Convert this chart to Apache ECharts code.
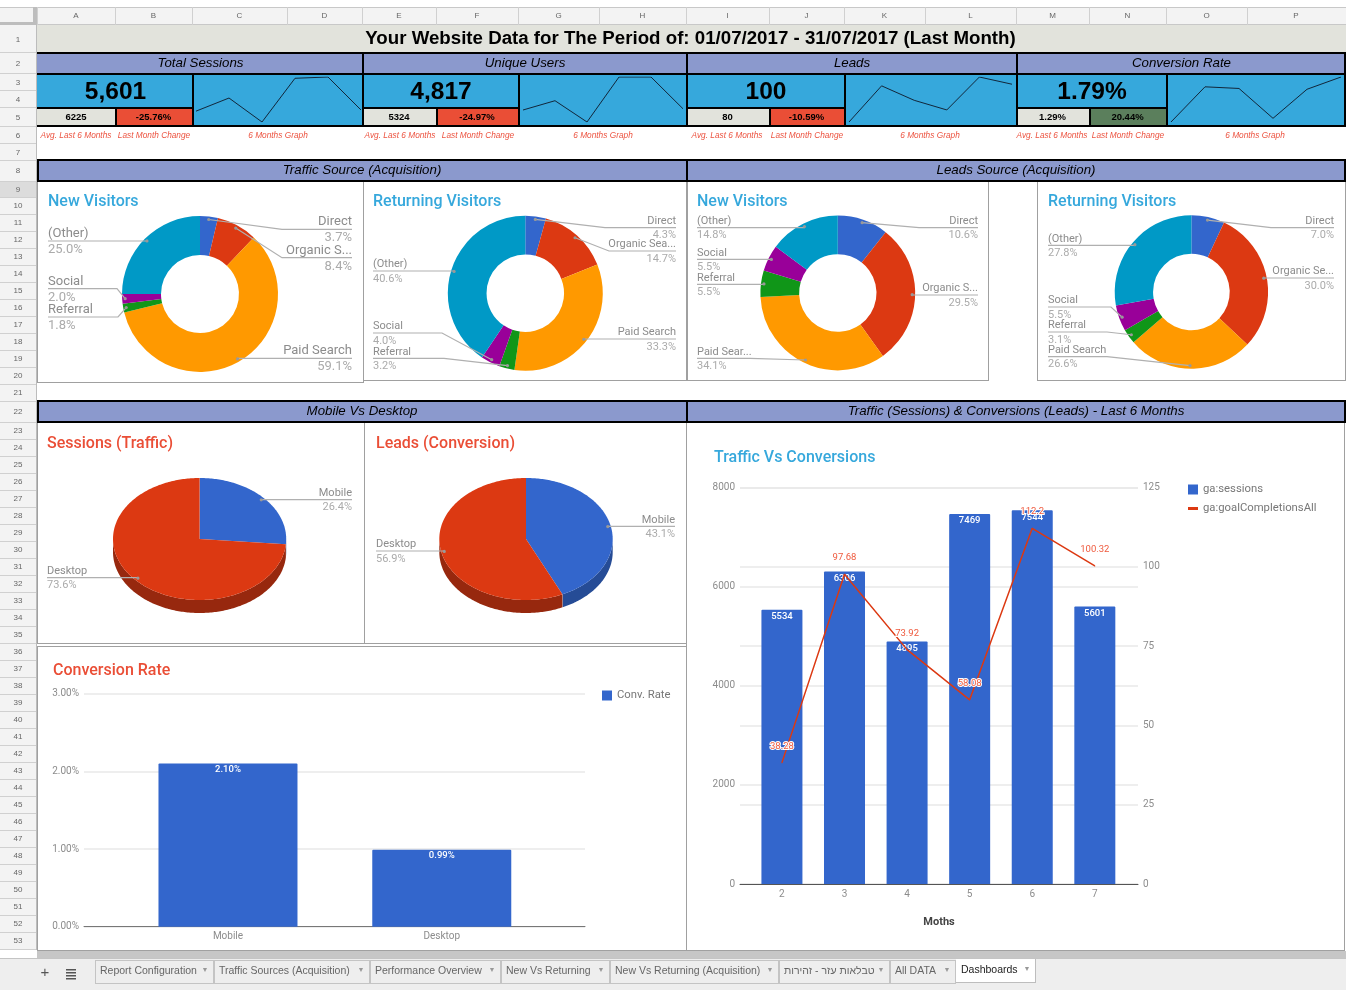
<!DOCTYPE html>
<html>
<head>
<meta charset="utf-8">
<title>Dashboards</title>
<style>
    html, body {margin: 0; padding: 0; background: #fff;}
    #main {width: 1346px; height: 990px;}
</style>
<script src="https://cdn.jsdelivr.net/npm/echarts@6/dist/echarts.min.js"></script>
</head>
<body>
<div id="main"></div>
<script>
// data
var reportTitle = 'Your Website Data for The Period of: 01/07/2017 - 31/07/2017 (Last Month)';
var kpiTitles = ['Total Sessions', 'Unique Users', 'Leads', 'Conversion Rate'];
var kpiValues = ['5,601', '4,817', '100', '1.79%'];
var kpiAverages = ['6225', '5324', '80', '1.29%'];
var kpiChanges = ['-25.76%', '-24.97%', '-10.59%', '20.44%'];
var sparkSessions = [5534, 6306, 4895, 7469, 7544, 5601];
var sparkUsers = [4755, 5224, 4150, 6420, 6420, 4817];
var sparkLeads = [38.28, 97.68, 73.92, 58.08, 112.2, 100.32];
var sparkConversion = [0.69, 1.55, 1.51, 0.78, 1.49, 1.79];

var sourceNames = ['Direct', 'Organic Search', 'Paid Search', 'Referral', 'Social', '(Other)'];
var trafficNewLabels = ['Direct', 'Organic S...', 'Paid Search', 'Referral', 'Social', '(Other)'];
var trafficNewValues = [3.7, 8.4, 59.1, 1.8, 2.0, 25.0];
var trafficReturningLabels = ['Direct', 'Organic Sea...', 'Paid Search', 'Referral', 'Social', '(Other)'];
var trafficReturningValues = [4.3, 14.7, 33.3, 3.2, 4.0, 40.6];
var leadsNewLabels = ['Direct', 'Organic S...', 'Paid Sear...', 'Referral', 'Social', '(Other)'];
var leadsNewValues = [10.6, 29.5, 34.1, 5.5, 5.5, 14.8];
var leadsReturningLabels = ['Direct', 'Organic Se...', 'Paid Search', 'Referral', 'Social', '(Other)'];
var leadsReturningValues = [7.0, 30.0, 26.6, 3.1, 5.5, 27.8];

var deviceNames = ['Mobile', 'Desktop'];
var deviceSessions = [26.4, 73.6];
var deviceLeads = [43.1, 56.9];
var conversionRates = [2.10, 0.99];

var months = [2, 3, 4, 5, 6, 7];
var monthlySessions = [5534, 6306, 4895, 7469, 7544, 5601];
var monthlyGoals = [38.28, 97.68, 73.92, 58.08, 112.2, 100.32];

var columnNames = ['A', 'B', 'C', 'D', 'E', 'F', 'G', 'H', 'I', 'J', 'K', 'L', 'M', 'N', 'O', 'P'];
var sheetTabs = ['Report Configuration', 'Traffic Sources (Acquisition)', 'Performance Overview', 'New Vs Returning',
    'New Vs Returning (Acquisition)', 'טבלאות עזר - זהירות', 'All DATA', 'Dashboards'];

// sheet layout
var columnEdges = [37, 115, 192, 287, 362, 436, 518, 599, 686, 769, 844, 925, 1016, 1089, 1166, 1247, 1345];
var rowEdges = [25, 52, 73, 90, 107, 126, 143, 160, 181, 197, 214, 231, 248, 265, 282, 299, 316, 333, 350, 367, 384, 401, 422];
for (var e = 439; e <= 949; e += 17) {
    rowEdges.push(e);
}
var tabEdges = [95, 214, 370, 501, 610, 779, 890, 956, 1036];

var SANS = '"Liberation Sans", Arial, sans-serif';
var CHART_FONT = 'Roboto, sans-serif';
var BLUE = '#36a8dc';
var PURPLE = '#8b99cd';
var PALE = '#e2e3dc';
var RED = '#ea4e36';
var GREEN = '#5b7f5c';
var CAPTION_RED = '#ec5340';
var LABEL_GREY = '#8c8c8c';
var PCT_GREY = '#ababab';
var PIE_COLORS = ['#3366cc', '#dc3912', '#ff9900', '#109618', '#990099', '#0099c6'];
var HEADER_FONT = 'italic 13.3px ' + SANS;

var graphics = [];

function box(x, y, w, h, fill, z) {
    graphics.push({type: 'rect', z: z || 0, silent: true, shape: {x: x, y: y, width: w, height: h}, style: {fill: fill}});
}

function label(x, y, str, font, fill, align, z) {
    graphics.push({
        type: 'text', z: z || 1, silent: true, x: x, y: y + 1,
        style: {text: str, font: font, fill: fill, align: align || 'center', verticalAlign: 'middle'}
    });
}

function frame(x, y, w, h) {
    box(x, y, w, 1, '#a0a0a0', 1);
    box(x, y + h, w + 1, 1, '#a0a0a0', 1);
    box(x, y, 1, h, '#a0a0a0', 1);
    box(x + w, y, 1, h, '#a0a0a0', 1);
}

function drawSheet() {
    var i;
    // column and row headers
    box(0, 7, 1346, 18, '#f3f3f3');
    box(0, 25, 37, 924, '#f3f3f3');
    box(0, 7, 1346, 1, '#c8c8c8');
    box(0, 24, 1346, 1, '#c8c8c8');
    box(33, 7, 4, 18, '#bdbdbd');
    box(0, 22, 37, 3, '#bdbdbd');
    for (i = 0; i < columnNames.length; i++) {
        box(columnEdges[i], 7, 1, 18, '#d0d0d0');
        label((columnEdges[i] + columnEdges[i + 1]) / 2, 15, columnNames[i], '8px ' + SANS, '#666');
    }
    box(0, rowEdges[8], 36, rowEdges[9] - rowEdges[8], '#dcdcdc');
    for (i = 0; i < rowEdges.length - 1; i++) {
        box(0, rowEdges[i + 1], 36, 1, '#d0d0d0');
        label(18, (rowEdges[i] + rowEdges[i + 1]) / 2 + (i < 7 ? 0.5 : -0.5), String(i + 1), '8px ' + SANS, '#666');
    }
    box(36, 25, 1, 925, '#bcbcbc');

    // title row
    box(37, 25, 1309, 28, PALE);
    label(690.5, 38, reportTitle, 'bold 18.7px ' + SANS, '#000');

    // kpi blocks
    var blockEdges = [37, 362, 686, 1016, 1345];
    var splitEdges = [192, 518, 844, 1166];
    var avgEdges = [115, 436, 769, 1089];
    var captionX = [[76, 154, 278], [400, 478, 603], [727, 807, 930], [1052, 1128, 1255]];
    for (i = 0; i < 4; i++) {
        var left = blockEdges[i];
        var right = blockEdges[i + 1];
        box(left, 53, right - left, 20, PURPLE);
        label((left + right) / 2 + 1, 62, kpiTitles[i], HEADER_FONT, '#000');
        box(left, 73, right - left, 53, BLUE);
        label((left + splitEdges[i]) / 2 + 1, 91, kpiValues[i], 'bold 24.5px ' + SANS, '#000');
        box(left, 107, avgEdges[i] - left, 19, PALE);
        box(avgEdges[i], 107, splitEdges[i] - avgEdges[i], 19, i === 3 ? GREEN : RED);
        label((left + avgEdges[i]) / 2, 116, kpiAverages[i], 'bold 9.5px ' + SANS, '#000');
        label((avgEdges[i] + splitEdges[i]) / 2, 116, kpiChanges[i], 'bold 9.5px ' + SANS, '#000');
        label(captionX[i][0], 135, 'Avg. Last 6 Months', 'italic 8.3px ' + SANS, CAPTION_RED);
        label(captionX[i][1], 135, 'Last Month Change', 'italic 8.3px ' + SANS, CAPTION_RED);
        label(captionX[i][2], 135, '6 Months Graph', 'italic 8.3px ' + SANS, CAPTION_RED);
    }

    // section headers
    box(37, 160, 649, 21, PURPLE);
    box(686, 160, 659, 21, PURPLE);
    box(37, 401, 649, 21, PURPLE);
    box(686, 401, 659, 21, PURPLE);
    label(362, 169, 'Traffic Source (Acquisition)', HEADER_FONT, '#000');
    label(1016, 169, 'Leads Source (Acquisition)', HEADER_FONT, '#000');
    label(362, 410, 'Mobile Vs Desktop', HEADER_FONT, '#000');
    label(1016, 410, 'Traffic (Sessions) & Conversions (Leads) - Last 6 Months', HEADER_FONT, '#000');

    // black cell borders
    [52, 73, 125, 159, 180, 400, 421].forEach(function (y) {
        box(37, y, 1309, 2, '#000', 2);
    });
    for (i = 0; i < 4; i++) {
        box(blockEdges[i], 107, splitEdges[i] - blockEdges[i], 2, '#000', 2);
        box(splitEdges[i], 73, 2, 53, '#000', 2);
        box(avgEdges[i], 107, 2, 19, '#000', 2);
        if (i > 0) {
            box(blockEdges[i], 52, 2, 74, '#000', 2);
        }
    }
    box(1344, 52, 2, 74, '#000', 2);
    [[37, 159], [686, 159], [1344, 159], [37, 400], [686, 400], [1344, 400]].forEach(function (b) {
        box(b[0], b[1], 2, 22, '#000', 2);
    });

    // chart panes
    frame(37, 181, 326, 201);
    frame(363, 181, 324, 199);
    frame(686, 181, 302, 199);
    frame(1037, 181, 308, 199);
    frame(37, 422, 327, 221);
    frame(364, 422, 322, 221);
    frame(37, 646, 649, 304);
    frame(686, 422, 658, 528);

    // pane titles
    var TITLE_FONT = '500 16px ' + CHART_FONT;
    label(48, 201, 'New Visitors', TITLE_FONT, BLUE, 'left');
    label(373, 201, 'Returning Visitors', TITLE_FONT, BLUE, 'left');
    label(697, 201, 'New Visitors', TITLE_FONT, BLUE, 'left');
    label(1048, 201, 'Returning Visitors', TITLE_FONT, BLUE, 'left');
    label(47, 443, 'Sessions (Traffic)', TITLE_FONT, RED, 'left');
    label(376, 443, 'Leads (Conversion)', TITLE_FONT, RED, 'left');
    label(53, 670, 'Conversion Rate', TITLE_FONT, RED, 'left');
    label(714, 457, 'Traffic Vs Conversions', TITLE_FONT, BLUE, 'left');

    // sheet tabs
    box(37, 951, 1309, 7, '#c6c6c6');
    box(0, 958, 1346, 32, '#eeeeee');
    box(0, 958, 1346, 1, '#c4c4c4');
    label(45, 972, '+', '15px ' + SANS, '#555');
    for (i = 0; i < 4; i++) {
        box(66, 969 + i * 3, 10, 1.5, '#555');
    }
    sheetTabs.forEach(function (name, n) {
        var active = n === sheetTabs.length - 1;
        var x = tabEdges[n];
        var w = tabEdges[n + 1] - x;
        var top = active ? 959 : 960;
        box(x, top, w, 24, active ? '#fff' : '#c4c4c4', 3);
        box(x + 1, top + (active ? 0 : 1), w - 2, 23 - (active ? 0 : 1), active ? '#fff' : '#eeeeee', 3);
        if (active) {
            box(x, top + 23, w, 1, '#bdbdbd', 3);
            box(x + w - 1, top, 1, 24, '#bdbdbd', 3);
        }
        label(x + 5, active ? 969 : 970, name, '10.5px ' + SANS, active ? '#222' : '#666', 'left', 4);
        label(x + w - 9, active ? 968.5 : 969.5, '▼', '7px ' + SANS, '#999', 'center', 4);
    });
}

// name above the leader line, percentage under it, dot on the slice
function pieCallout(cx, cy, rx, ry, names, values, anchors, fontSize) {
    var font = fontSize + 'px ' + CHART_FONT;
    var gap = fontSize === 13 ? 7.7 : 7;
    var total = values.reduce(function (a, b) { return a + b; }, 0);
    var run = 0;
    values.forEach(function (v, i) {
        var t = (run + v / 2) / total * Math.PI * 2;
        run += v;
        var a = anchors[i];
        var dotX = cx + (rx - 3) * Math.sin(t);
        var dotY = cy - (ry - 3) * Math.cos(t);
        var pts = [[a[0], a[2]]];
        if (a[3]) {
            pts.push([a[3], a[2]]);
        } else {
            pts.push([dotX, a[2]]);
        }
        pts.push([dotX, dotY]);
        graphics.push({
            type: 'polyline', z: 10, silent: true, shape: {points: pts},
            style: {stroke: '#b0b0b0', lineWidth: 1.2, fill: null}
        });
        graphics.push({type: 'circle', z: 11, silent: true, shape: {cx: dotX, cy: dotY, r: 1.6}, style: {fill: '#999'}});
        var align = a[1];
        label(a[0], a[2] - gap - 0.5, names[i], font, LABEL_GREY, align, 10);
        label(a[0], a[2] + gap, v.toFixed(1) + '%', font, PCT_GREY, align, 10);
    });
}

function donut(name, cx, cy, outer, values) {
    return {
        type: 'pie',
        name: name,
        center: [cx, cy],
        radius: [outer / 2, outer],
        silent: true,
        label: {show: false},
        labelLine: {show: false},
        data: values.map(function (v, i) {
            return {name: sourceNames[i], value: v, itemStyle: {color: PIE_COLORS[i]}};
        })
    };
}

// pie seen at an angle, the library has no such mode so it is a custom series
function tiltedPie(name, cx, cy, rx, ry, depth, values) {
    var tops = ['#3366cc', '#dc3912'];
    var sides = ['#264c96', '#97280e'];
    var total = values[0] + values[1];
    return {
        type: 'custom',
        name: name,
        coordinateSystem: 'none',
        silent: true,
        data: values,
        renderItem: function (params, api) {
            var i = params.dataIndex;
            var before = i === 0 ? 0 : values[0];
            var from = before / total * 360;
            var to = (before + api.value(0)) / total * 360;
            var top = [[cx, cy]];
            var rim = [];
            var under = [];
            for (var a = from; a <= to + 0.001; a += 1) {
                var rad = Math.min(a, to) * Math.PI / 180;
                var px = cx + rx * Math.sin(rad);
                var py = cy - ry * Math.cos(rad);
                top.push([px, py]);
                if (a >= 90 && a <= 270) {
                    rim.push([px, py]);
                    under.unshift([px, py + depth]);
                }
            }
            var rad2 = to * Math.PI / 180;
            top.push([cx + rx * Math.sin(rad2), cy - ry * Math.cos(rad2)]);
            return {
                type: 'group',
                children: [
                    {type: 'polygon', shape: {points: rim.concat(under)}, style: {fill: sides[i]}},
                    {type: 'polygon', shape: {points: top}, style: {fill: tops[i]}}
                ]
            };
        }
    };
}

function spark(index, values, left, right) {
    return {
        grid: {left: left, top: 77, width: right - left, height: 45},
        xAxis: {gridIndex: index, type: 'category', show: false, boundaryGap: false, data: months},
        yAxis: {gridIndex: index, type: 'value', show: false, min: Math.min.apply(null, values), max: Math.max.apply(null, values)},
        series: {
            type: 'line', xAxisIndex: index, yAxisIndex: index, data: values, silent: true,
            showSymbol: false, lineStyle: {color: '#12263a', width: 1}
        }
    };
}

function pairs(xs, ys) {
    return xs.map(function (x, i) {
        return [x, ys[i]];
    });
}

function yValue(p) {
    return String(p.value[1]);
}

drawSheet();

pieCallout(200, 294, 78, 78, trafficNewLabels, trafficNewValues, [
    [352, 'right', 229.3, 282], [352, 'right', 257.7, 282], [352, 'right', 358.3, 0],
    [48, 'left', 317, 118], [48, 'left', 288.7, 117], [48, 'left', 241, 0]
], 13);
pieCallout(525.3, 293.2, 77.5, 77.5, trafficReturningLabels, trafficReturningValues, [
    [676, 'right', 227.7, 605], [676, 'right', 251, 609], [676, 'right', 339, 0],
    [373, 'left', 358.3, 444], [373, 'left', 333, 442], [373, 'left', 271, 0]
], 11);
pieCallout(837.8, 293, 77.4, 77.4, leadsNewLabels, leadsNewValues, [
    [978, 'right', 227.7, 919], [978, 'right', 295, 0], [697, 'left', 358.3, 750],
    [697, 'left', 284.3, 0], [697, 'left', 259.3, 0], [697, 'left', 227.7, 0]
], 11);
pieCallout(1191.4, 292, 76.7, 76.7, leadsReturningLabels, leadsReturningValues, [
    [1334, 'right', 227.7, 1271], [1334, 'right', 278, 0], [1048, 'left', 356.7, 1107],
    [1048, 'left', 332, 1107], [1048, 'left', 307, 1111], [1048, 'left', 245.3, 0]
], 11);
pieCallout(199.6, 539, 86.6, 61, deviceNames, deviceSessions, [
    [352, 'right', 499.7, 0], [47, 'left', 577.7, 0]
], 11);
pieCallout(526, 539, 86.7, 61, deviceNames, deviceLeads, [
    [675, 'right', 526.3, 0], [376, 'left', 551, 0]
], 11);

var sparks = [
    spark(0, sparkSessions, 196, 361),
    spark(1, sparkUsers, 523, 683),
    spark(2, sparkLeads, 849, 1012),
    spark(3, sparkConversion, 1171, 1341)
];

var axisText = {color: LABEL_GREY, fontFamily: CHART_FONT, fontSize: 10, margin: 5};
var gridLine = {lineStyle: {color: '#e9e9e9', width: 1.5}};
var legendText = {color: '#777', fontFamily: CHART_FONT, fontSize: 11.3};
var hiddenLine = {show: false, onZero: false};
var deviceSlots = [0, 1];

var option = {
    animation: false,
    backgroundColor: '#fff',
    textStyle: {fontFamily: CHART_FONT},
    graphic: {elements: graphics},
    grid: sparks.map(function (s) { return s.grid; }).concat([
        {left: 84, width: 501, top: 693.7, height: 233},
        {left: 740, width: 398, top: 487.7, height: 396.3}
    ]),
    // the bars sit inside a wider plot, so these are value axes with labels only on the bars
    xAxis: sparks.map(function (s) { return s.xAxis; }).concat([
        {
            gridIndex: 4, type: 'value', min: -0.6735, max: 1.67,
            axisTick: {show: false},
            splitLine: {show: false},
            axisLine: {lineStyle: {color: '#777', width: 1}},
            axisLabel: {
                color: LABEL_GREY, fontFamily: CHART_FONT, fontSize: 10, margin: 5,
                customValues: deviceSlots,
                formatter: function (v) { return deviceNames[v]; }
            }
        },
        {
            gridIndex: 5, type: 'value', min: 1.33, max: 7.69,
            axisTick: {show: false},
            splitLine: {show: false},
            axisLine: {lineStyle: {color: '#555', width: 1}},
            axisLabel: {
                color: LABEL_GREY, fontFamily: CHART_FONT, fontSize: 10, margin: 5,
                customValues: months
            },
            name: 'Moths',
            nameLocation: 'middle',
            nameGap: 33,
            nameTextStyle: {color: '#444', fontFamily: CHART_FONT, fontSize: 11, fontWeight: 'bold'}
        }
    ]),
    yAxis: sparks.map(function (s) { return s.yAxis; }).concat([
        {
            gridIndex: 4, type: 'value', min: 0, max: 3, interval: 1,
            axisLine: hiddenLine, axisTick: {show: false},
            axisLabel: {
                color: LABEL_GREY, fontFamily: CHART_FONT, fontSize: 10, margin: 5,
                formatter: function (v) { return v.toFixed(2) + '%'; }
            },
            splitLine: gridLine
        },
        {
            gridIndex: 5, type: 'value', min: 0, max: 8000, interval: 2000,
            axisLine: hiddenLine, axisTick: {show: false},
            axisLabel: {
                color: LABEL_GREY, fontFamily: CHART_FONT, fontSize: 10, margin: 5,
                formatter: function (v) { return String(v); }
            },
            splitLine: gridLine
        },
        {
            gridIndex: 5, type: 'value', position: 'right', min: 0, max: 125, interval: 25,
            axisLine: hiddenLine, axisTick: {show: false},
            axisLabel: axisText,
            splitLine: gridLine
        }
    ]),
    legend: [
        {
            left: 602, top: 690, itemWidth: 10, itemHeight: 10, itemGap: 9, padding: 0,
            textStyle: legendText,
            data: [{name: 'Conv. Rate', icon: 'rect'}]
        },
        {
            left: 1188, top: 484, orient: 'vertical', itemWidth: 10, itemHeight: 10, itemGap: 8, padding: 0,
            textStyle: legendText,
            data: [
                {name: 'ga:sessions', icon: 'rect'},
                {name: 'ga:goalCompletionsAll', icon: 'path://M0 0H10V3H0Z'}
            ]
        }
    ],
    series: sparks.map(function (s) { return s.series; }).concat([
        donut('Traffic New', 200, 294, 78, trafficNewValues),
        donut('Traffic Returning', 525.3, 293.2, 77.5, trafficReturningValues),
        donut('Leads New', 837.8, 293, 77.4, leadsNewValues),
        donut('Leads Returning', 1191.4, 292, 76.7, leadsReturningValues),
        tiltedPie('Sessions', 199.6, 539, 86.6, 61, 13, deviceSessions),
        tiltedPie('Leads', 526, 539, 86.7, 61, 13, deviceLeads),
        {
            type: 'bar', name: 'Conv. Rate', xAxisIndex: 4, yAxisIndex: 4,
            data: pairs(deviceSlots, conversionRates), barWidth: 139, silent: true,
            itemStyle: {color: '#3366cc', borderRadius: [1, 1, 0, 0]},
            label: {
                show: true, position: 'insideTop', distance: 1, color: '#fff', fontSize: 9.5, fontWeight: 500,
                formatter: function (p) { return p.value[1].toFixed(2) + '%'; }
            }
        },
        {
            type: 'bar', name: 'ga:sessions', xAxisIndex: 5, yAxisIndex: 5,
            data: pairs(months, monthlySessions), barWidth: 41, silent: true,
            itemStyle: {color: '#3366cc', borderRadius: [1, 1, 0, 0]},
            label: {show: true, position: 'insideTop', distance: 2, color: '#fff', fontSize: 9.5, fontWeight: 500, formatter: yValue}
        },
        {
            type: 'line', name: 'ga:goalCompletionsAll', xAxisIndex: 5, yAxisIndex: 6,
            data: pairs(months, monthlyGoals), silent: true, symbol: 'circle', symbolSize: 1,
            itemStyle: {color: '#dc3912'},
            lineStyle: {color: '#dc3912', width: 1.5},
            label: {
                show: true, position: 'top', distance: 11, color: '#ef5a3e', fontSize: 9.5,
                textBorderColor: '#fff', textBorderWidth: 2, formatter: yValue
            }
        }
    ])
};

var chart = echarts.init(document.getElementById('main'));
chart.setOption(option);
</script>
</body>
</html>
